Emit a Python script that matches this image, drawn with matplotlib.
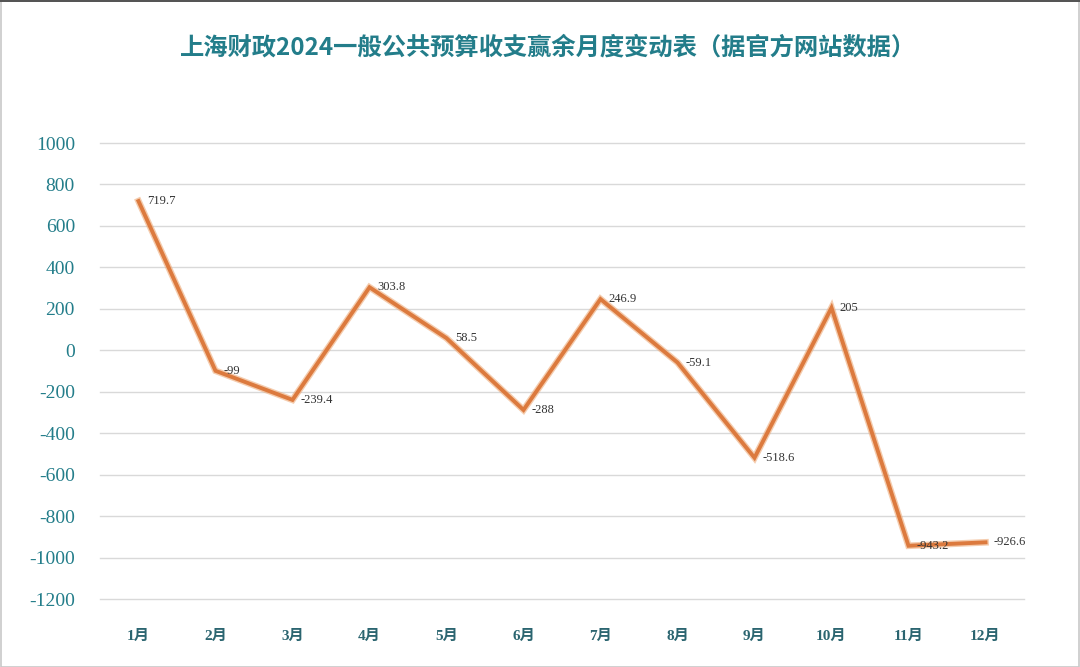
import matplotlib
matplotlib.use("Agg")
import matplotlib.pyplot as plt
from matplotlib.patches import Rectangle

months = ["1月", "2月", "3月", "4月", "5月", "6月", "7月", "8月", "9月", "10月", "11月", "12月"]
values = [719.7, -99, -239.4, 303.8, 58.5, -288, 246.9, -59.1, -518.6, 205, -943.2, -926.6]
labels = ["719.7", "-99", "-239.4", "303.8", "58.5", "-288", "246.9", "-59.1", "-518.6", "205", "-943.2", "-926.6"]
yticks = list(range(-1200, 1001, 200))
title = "上海财政2024一般公共预算收支赢余月度变动表（据官方网站数据）"

teal = "#237d8a"
fig = plt.figure(figsize=(10.8, 6.67), dpi=100)
fig.patch.set_facecolor("white")
W, H = 1080, 667
ax = fig.add_axes([100 / W, 1 - 599 / H, 924 / W, (599 - 143) / H])

x = list(range(len(months)))
ax.plot(x, values, color="#eeaa78", lw=4.8, alpha=0.6, solid_joinstyle="miter", zorder=2)
ax.plot(x, values, color="#dc7a3e", lw=2.8, solid_joinstyle="miter", zorder=3)

for xi, v, lab in zip(x, values, labels):
    ax.annotate(lab, (xi, v), xytext=(6, 0), textcoords="offset points",
                ha="left", va="center", fontsize=9, color="#333333",
                family=["Liberation Serif", "DejaVu Serif"], zorder=4)

ax.set_xlim(-0.5, len(months) - 0.5)
ax.set_ylim(-1200, 1000)
ax.set_yticks(yticks)
ax.set_yticklabels([str(t) for t in yticks], family=["Liberation Serif"], fontsize=14, color=teal)
ax.set_xticks(x)
ax.set_xticklabels(months, family=["Liberation Serif", "Noto Sans CJK SC"], fontsize=11,
                   color="#2b6570", fontweight="bold")
ax.tick_params(axis="both", length=0)
ax.tick_params(axis="y", pad=18)
ax.tick_params(axis="x", pad=22)
for s in ax.spines.values():
    s.set_visible(False)
ax.grid(axis="y", color="#d9d9d9", lw=1)
for gl in ax.get_ygridlines():
    gl.set_clip_on(False)
ax.set_axisbelow(True)

fig.text(548 / W, 1 - 48 / H, title, ha="center", va="center", fontsize=17.5,
         color="#237d8a", fontweight="bold", family=["Noto Sans CJK SC", "DejaVu Sans"])

fig.patches.append(Rectangle((0.5 / W, 0.5 / H), 1 - 1.5 / W, 1 - 1.5 / H, transform=fig.transFigure,
                             fill=False, edgecolor="#c8c8c8", lw=1.2))
fig.patches.append(Rectangle((0, 1 - 2 / H), 1, 2 / H, transform=fig.transFigure,
                             facecolor="#555555", edgecolor="none"))

fig.savefig("out.png", dpi=100)
